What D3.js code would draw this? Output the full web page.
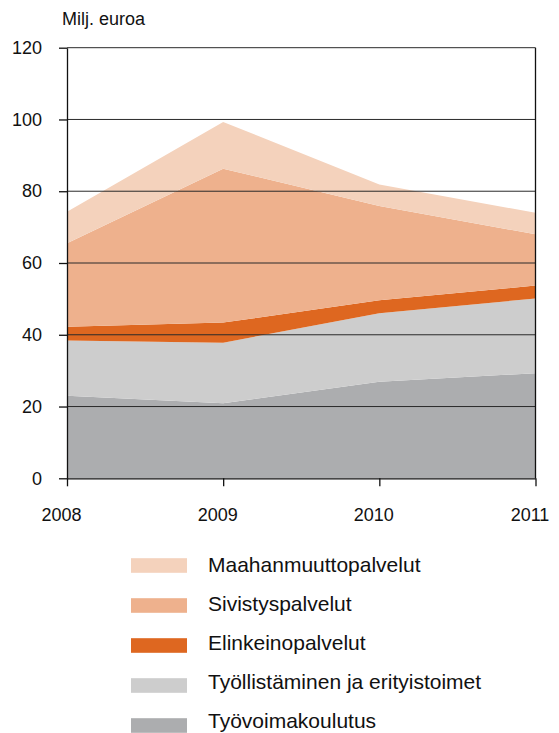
<!DOCTYPE html>
<html>
<head>
<meta charset="utf-8">
<script src="https://cdn.jsdelivr.net/npm/d3@7"></script>
<style>
  body { margin: 0; background: #fff; }
  text { font-family: "Liberation Sans", Arial, sans-serif; fill: #111; }
</style>
</head>
<body>
<div id="graf"></div>
<script>
// Pinottu aluekaavio, milj. euroa

const vuodet = [2008, 2009, 2010, 2011]
const sarjat = ['Työvoimakoulutus', 'Työllistäminen ja erityistoimet', 'Elinkeinopalvelut', 'Sivistyspalvelut', 'Maahanmuuttopalvelut']
const tyovoimakoulutus = [23.0, 20.9, 26.9, 29.3]
const tyollistaminen   = [15.4, 16.9, 19.1, 20.8]
const elinkeino        = [3.8, 5.6, 3.6, 3.6]
const sivistys         = [23.3, 42.9, 26.3, 14.3]
const maahanmuutto     = [8.8, 13.0, 6.0, 6.0]
const yTicks = [0, 20, 40, 60, 80, 100, 120]
const yksikko = 'Milj. euroa'

const varit = ['#acadaf', '#cdcdcd', '#de6720', '#eeb18d', '#f4d2bc']

const ancho_total = 559
const alto_total = 733
const margins = { top: 47.7, left: 67, right: 23.5, bottom: 254.7 }
const ancho = ancho_total - margins.left - margins.right
const alto = alto_total - margins.top - margins.bottom

// taulukko d3.stackia varten
const data = vuodet.map((v, i) => ({
  vuosi: v,
  'Työvoimakoulutus': tyovoimakoulutus[i],
  'Työllistäminen ja erityistoimet': tyollistaminen[i],
  'Elinkeinopalvelut': elinkeino[i],
  'Sivistyspalvelut': sivistys[i],
  'Maahanmuuttopalvelut': maahanmuutto[i]
}))

const svg = d3.select('#graf').append('svg')
  .attr('width', ancho_total)
  .attr('height', alto_total)

const g = svg.append('g')
  .attr('transform', `translate(${margins.left}, ${margins.top})`)

const x = d3.scaleLinear().domain(d3.extent(vuodet)).range([0, ancho])
const y = d3.scaleLinear().domain([0, 120]).range([alto, 0])
const color = d3.scaleOrdinal().domain(sarjat).range(varit)

const pinot = d3.stack().keys(sarjat)(data)

const areaGen = d3.area()
  .x(d => x(d.data.vuosi))
  .y0(d => y(d[0]))
  .y1(d => y(d[1]))

g.selectAll('.alue')
  .data(pinot)
  .join('path')
  .attr('class', 'alue')
  .attr('fill', d => color(d.key))
  .attr('d', areaGen)

// ruudukko alueiden päälle
g.append('g')
  .selectAll('line')
  .data(yTicks.filter(t => t > 0))
  .join('line')
  .attr('x1', 0)
  .attr('x2', ancho)
  .attr('y1', d => y(d))
  .attr('y2', d => y(d))
  .attr('stroke', '#2a2a2a')
  .attr('stroke-width', 1)

// oikea reuna
g.append('line')
  .attr('x1', ancho).attr('x2', ancho)
  .attr('y1', 0).attr('y2', alto)
  .attr('stroke', '#111')
  .attr('stroke-width', 1.3)

// Akselit
const yAxis = g.append('g')
  .call(d3.axisLeft(y).tickValues(yTicks).tickSize(8).tickPadding(17).tickSizeOuter(0))
const xAxis = g.append('g')
  .attr('transform', `translate(0, ${alto})`)
  .call(d3.axisBottom(x).tickValues(vuodet).tickFormat(d3.format('d')).tickSize(8).tickPadding(22).tickSizeOuter(0))

g.selectAll('.domain, .tick line').attr('stroke', '#111').attr('stroke-width', 1.3)
g.selectAll('.tick text').style('font-size', '18px').attr('fill', '#111')
xAxis.selectAll('.tick text').attr('dx', -6)

svg.append('text')
  .attr('x', 62)
  .attr('y', 25)
  .style('font-size', '18px')
  .text(yksikko)

// Selite
const selite = svg.append('g')
const rivit = sarjat.slice().reverse()
rivit.forEach((s, i) => {
  const cy = 565.5 + i * 40
  selite.append('rect')
    .attr('x', 131)
    .attr('y', cy - 7.3)
    .attr('width', 56)
    .attr('height', 14.6)
    .attr('fill', color(s))
  selite.append('text')
    .attr('x', 208)
    .attr('y', 571.7 + i * 39.15)
    .style('font-size', '21px')
    .text(s)
})
</script>
</body>
</html>
